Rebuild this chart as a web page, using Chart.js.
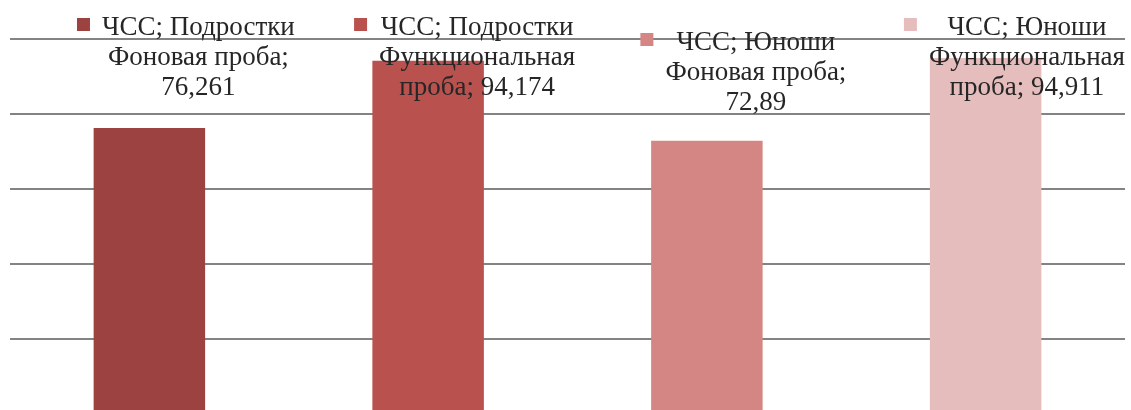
<!DOCTYPE html>
<html>
<head>
<meta charset="utf-8">
<script src="https://cdn.jsdelivr.net/npm/chart.js@4"></script>
<style>
  html, body { margin: 0; padding: 0; background: #fff; overflow: hidden; }
</style>
</head>
<body>
<canvas id="chart" width="1131" height="414"></canvas>
<script>
const groups = ["ЧСС; Подростки", "ЧСС; Подростки", "ЧСС; Юноши", "ЧСС; Юноши"];
const categories = ["Фоновая проба", "Функциональная проба", "Фоновая проба", "Функциональная проба"];
const values = [76.261, 94.174, 72.89, 94.911];
const barColors = ["#9c4341", "#b9524f", "#d48684", "#e6bdbd"];

// label placement (manual in the original)
const labelTop = [35, 35, 50, 35];
const labelShift = 49;
const labelFont = "27px 'Liberation Serif', 'Times New Roman', serif";
const lineHeight = 30;
const wrapWidth = 210;

function wrap(ctx, text, maxW) {
    const words = text.split(" ");
    const lines = [];
    let cur = "";
    words.forEach(w => {
        const test = cur ? cur + " " + w : w;
        if (cur && ctx.measureText(test).width > maxW) {
            lines.push(cur);
            cur = w;
        } else {
            cur = test;
        }
    });
    if (cur) lines.push(cur);
    return lines;
}

const dataLabels = {
    id: "dataLabels",
    afterDatasetsDraw(chart) {
        const ctx = chart.ctx;
        const meta = chart.getDatasetMeta(0);
        ctx.save();
        ctx.font = labelFont;
        ctx.textAlign = "center";
        ctx.textBaseline = "alphabetic";
        meta.data.forEach((bar, i) => {
            const valText = String(values[i]).replace(".", ",");
            const lines = [groups[i]].concat(wrap(ctx, categories[i] + "; " + valText, wrapWidth));
            const maxW = Math.max(...lines.map(l => ctx.measureText(l).width));
            let cx = bar.x + labelShift;
            if (cx + maxW / 2 > chart.width - 6) cx = chart.width - 6 - maxW / 2;
            const y0 = labelTop[i];
            ctx.fillStyle = barColors[i];
            ctx.fillRect(cx - maxW / 2 - 25, y0 - 17, 13, 13);
            ctx.fillStyle = "#262626";
            lines.forEach((l, k) => ctx.fillText(l, cx, y0 + k * lineHeight));
        });
        ctx.restore();
    }
};

new Chart("chart", {
    type: "bar",
    data: {
        labels: categories,
        datasets: [{
            label: "ЧСС",
            data: values,
            backgroundColor: barColors,
            barPercentage: 0.4,
            categoryPercentage: 1
        }]
    },
    options: {
        responsive: false,
        animation: false,
        layout: { padding: { left: 10, right: 6, top: 39, bottom: 0 } },
        plugins: {
            legend: { display: false },
            tooltip: { enabled: false }
        },
        scales: {
            x: { display: false },
            y: {
                min: 0,
                max: 100,
                ticks: { display: false, stepSize: 20 },
                grid: { color: "#838383", lineWidth: 2, drawTicks: false },
                border: { display: false }
            }
        }
    },
    plugins: [dataLabels]
});
</script>
</body>
</html>
